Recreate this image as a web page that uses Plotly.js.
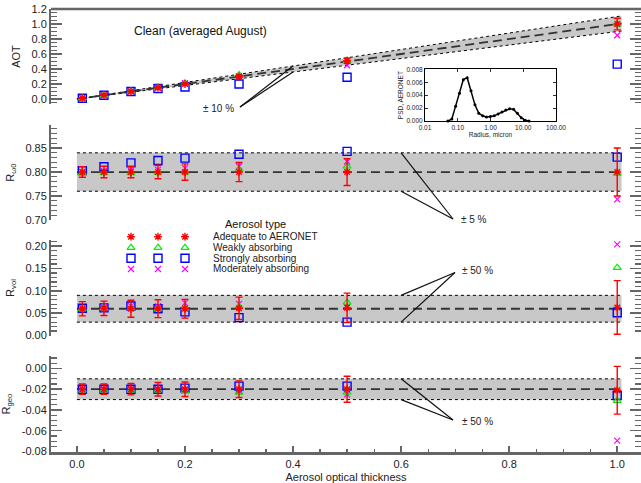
<!DOCTYPE html>
<html><head><meta charset="utf-8">
<script src="https://cdn.plot.ly/plotly-3.0.1.min.js"></script>
<style>html,body{margin:0;padding:0;background:#fff}</style>
</head><body><div id="chart" style="width:641px;height:483px"></div>
<script>
// ---------------- data ----------------
const xAOT = [0.01, 0.05, 0.1, 0.15, 0.2, 0.3, 0.5, 1.0];
const seriesNames = ['Adequate to AERONET', 'Weakly absorbing', 'Strongly absorbing', 'Moderately absorbing'];

// AOT panel
const aotAdequate = [0.01, 0.05, 0.10, 0.15, 0.20, 0.30, 0.51, 1.00];
const aotAdequateErr = [0.003, 0.004, 0.005, 0.006, 0.008, 0.015, 0.035, 0.078];
const aotWeak = [0.01, 0.05, 0.10, 0.15, 0.21, 0.32, 0.51, 1.00];
const aotStrong = [0.01, 0.05, 0.10, 0.14, 0.16, 0.20, 0.29, 0.465];
const aotModerate = [0.01, 0.05, 0.10, 0.15, 0.21, 0.30, 0.45, 0.85];

// R_w0 panel
const w0Adequate = [0.80, 0.80, 0.80, 0.80, 0.80, 0.80, 0.80, 0.80];
const w0AdequateErr = [0.011, 0.012, 0.012, 0.014, 0.017, 0.02, 0.028, 0.05];
const w0Weak = [0.798, 0.798, 0.798, 0.799, 0.80, 0.805, 0.812, 0.797];
const w0Strong = [0.803, 0.811, 0.819, 0.824, 0.829, 0.837, 0.843, 0.831];
const w0Moderate = [0.80, 0.802, 0.803, 0.805, 0.808, 0.812, 0.822, 0.743];

// R_vol panel
const volAdequate = [0.060, 0.061, 0.060, 0.060, 0.060, 0.061, 0.062, 0.063];
const volAdequateErr = [0.016, 0.016, 0.019, 0.020, 0.021, 0.025, 0.033, 0.060];
const volWeak = [0.060, 0.062, 0.062, 0.060, 0.062, 0.065, 0.074, 0.152];
const volStrong = [0.061, 0.062, 0.066, 0.060, 0.053, 0.040, 0.030, 0.051];
const volModerate = [0.061, 0.063, 0.066, 0.066, 0.073, 0.071, 0.064, 0.204];

// R_geo panel
const geoAdequate = [-0.020, -0.020, -0.020, -0.020, -0.020, -0.020, -0.020, -0.021];
const geoAdequateErr = [0.005, 0.005, 0.0055, 0.0065, 0.007, 0.008, 0.0125, 0.023];
const geoWeak = [-0.021, -0.021, -0.021, -0.021, -0.022, -0.023, -0.023, -0.031];
const geoStrong = [-0.020, -0.020, -0.020, -0.020, -0.019, -0.017, -0.017, -0.026];
const geoModerate = [-0.020, -0.020, -0.020, -0.020, -0.021, -0.022, -0.025, -0.0696];

// reference lines / bands
const bandX = [0, 1.008];
const aotRefFactor = 0.10;        // +-10 %
const w0Ref = 0.80, w0RefFactor = 0.05;   // +-5 %
const volRef = 0.06, volRefFactor = 0.50; // +-50 %
const geoRef = -0.02, geoRefFactor = 0.50; // +-50 %

// inset PSD
const psdRadius = [0.050, 0.066, 0.086, 0.113, 0.148, 0.194, 0.255, 0.335, 0.439, 0.576, 0.756, 0.992, 1.302, 1.708, 2.241, 2.940, 3.857, 5.060, 6.640, 8.712, 11.43, 15.0];
const psdValue = [0.0, 0.0003, 0.0023, 0.0043, 0.0064, 0.0067, 0.0047, 0.0025, 0.0012, 0.0008, 0.0006, 0.0007, 0.0008, 0.0011, 0.0014, 0.0017, 0.0019, 0.0018, 0.0012, 0.0005, 0.0001, 0.0];

// tick labels
const xTickVals = [0, 0.2, 0.4, 0.6, 0.8, 1.0];
const xTickText = ['0.0', '0.2', '0.4', '0.6', '0.8', '1.0'];
const aotTickVals = [0, 0.2, 0.4, 0.6, 0.8, 1.0, 1.2];
const aotTickText = ['0.0', '0.2', '0.4', '0.6', '0.8', '1.0', '1.2'];
const w0TickVals = [0.70, 0.75, 0.80, 0.85];
const w0TickText = ['0.70', '0.75', '0.80', '0.85'];
const volTickVals = [0, 0.05, 0.10, 0.15, 0.20];
const volTickText = ['0.00', '0.05', '0.10', '0.15', '0.20'];
const geoTickVals = [0, -0.02, -0.04, -0.06, -0.08];
const geoTickText = ['0.00', '-0.02', '-0.04', '-0.06', '-0.08'];
const psdXTickVals = [0.01, 0.1, 1, 10, 100];
const psdXTickText = ['0.01', '0.10', '1.00', '10.00', '100.00'];
const psdYTickVals = [0, 0.002, 0.004, 0.006, 0.008];
const psdYTickText = ['0.000', '0.002', '0.004', '0.006', '0.008'];

// ---------------- styles ----------------
const FONT = 'Liberation Sans, Arial, Helvetica, sans-serif';
const AX = '#666';
const markers = [
  {symbol: 'asterisk-open', size: 6.5, color: '#ff0000', line: {color: '#ff0000', width: 1.4}},
  {symbol: 'triangle-up-open', size: 7, color: '#00ee00', line: {color: '#00ee00', width: 1.2}},
  {symbol: 'square-open', size: 8, color: '#0000ff', line: {color: '#0000ff', width: 1.4}},
  {symbol: 'x-thin-open', size: 6, color: '#ff00ff', line: {color: '#ff00ff', width: 1.2}}
];

const XR = [-0.048, 1.044];
const PAN = {
  y:  {dom: [0.7856, 1.0],    rng: [-0.067, 1.201]},
  y2: {dom: [0.5237, 0.7381], rng: [0.70, 0.898]},
  y3: {dom: [0.2619, 0.4786], rng: [-0.001, 0.214]},
  y4: {dom: [0.0, 0.2167],    rng: [-0.0805, 0.012]}
};
function pX(x) { return (x - XR[0]) / (XR[1] - XR[0]); }
function pY(ax, v) { const p = PAN[ax]; return p.dom[0] + (v - p.rng[0]) / (p.rng[1] - p.rng[0]) * (p.dom[1] - p.dom[0]); }
// pixel -> paper (plot area: x 51..641, y 9..452)
function ppx(px) { return (px - 51) / 590; }
function ppy(py) { return (452 - py) / 443; }

const traces = [];
function addBand(yax, lo, hi, mid) {
  traces.push({x: bandX, y: lo, yaxis: yax, mode: 'lines', line: {color: '#000', width: 1, dash: 'dot'}, hoverinfo: 'skip'});
  traces.push({x: bandX, y: hi, yaxis: yax, mode: 'lines', fill: 'tonexty', fillcolor: '#c8c8c8', line: {color: '#000', width: 1, dash: 'dot'}, hoverinfo: 'skip'});
  traces.push({x: bandX, y: mid, yaxis: yax, mode: 'lines', line: {color: '#333', width: 1.8, dash: '9px,5px'}, hoverinfo: 'skip'});
}
function addSeries(yax, adequate, err, weak, strong, moderate) {
  const order = [[2, strong], [3, moderate], [1, weak]];
  order.forEach(([i, arr]) => traces.push({x: xAOT, y: arr, yaxis: yax, mode: 'markers', name: seriesNames[i], marker: markers[i], cliponaxis: false}));
  traces.push({x: xAOT, y: adequate, yaxis: yax, mode: 'markers', name: seriesNames[0], marker: markers[0], cliponaxis: false,
    error_y: {type: 'data', array: err, visible: true, color: '#ff0000', thickness: 1.4, width: 3.5}});
}

addBand('y', bandX.map(v => v * (1 - aotRefFactor)), bandX.map(v => v * (1 + aotRefFactor)), bandX.map(v => v));
addSeries('y', aotAdequate, aotAdequateErr, aotWeak, aotStrong, aotModerate);
addBand('y2', bandX.map(() => w0Ref * (1 - w0RefFactor)), bandX.map(() => w0Ref * (1 + w0RefFactor)), bandX.map(() => w0Ref));
addSeries('y2', w0Adequate, w0AdequateErr, w0Weak, w0Strong, w0Moderate);
addBand('y3', bandX.map(() => volRef * (1 - volRefFactor)), bandX.map(() => volRef * (1 + volRefFactor)), bandX.map(() => volRef));
addSeries('y3', volAdequate, volAdequateErr, volWeak, volStrong, volModerate);
addBand('y4', bandX.map(() => geoRef * (1 + geoRefFactor)), bandX.map(() => geoRef * (1 - geoRefFactor)), bandX.map(() => geoRef));
addSeries('y4', geoAdequate, geoAdequateErr, geoWeak, geoStrong, geoModerate);

// inset
traces.push({x: psdRadius, y: psdValue, xaxis: 'x5', yaxis: 'y5', mode: 'lines+markers',
  line: {color: '#000', width: 1.5}, marker: {color: '#000', size: 3}, cliponaxis: false});

// legend (IDL-style: three symbols per entry) on an overlay axis in paper units
const legCols = [131, 158, 185].map(ppx);
const legRows = [236.7, 247.7, 258.3, 269].map(ppy);
seriesNames.forEach((n, i) => {
  traces.push({x: legCols, y: legCols.map(() => legRows[i]), xaxis: 'x6', yaxis: 'y6', mode: 'markers', marker: markers[i], cliponaxis: false, hoverinfo: 'skip'});
});

function yAxis(key, tv, tt, minorDtick, title) {
  return {
    domain: PAN[key].dom, range: PAN[key].rng, anchor: 'x',
    tickmode: 'array', tickvals: tv, ticktext: tt,
    ticks: 'inside', ticklen: 11, tickwidth: 1.5, tickcolor: AX,
    minor: {dtick: minorDtick, tick0: 0, ticks: 'inside', ticklen: 6, tickwidth: 1.2, tickcolor: AX},
    showline: true, linecolor: AX, linewidth: 2, mirror: 'ticks',
    showgrid: false, zeroline: false,
    tickfont: {family: FONT, size: 11, color: '#222'},
    title: {text: title, font: {family: FONT, size: 11, color: '#222'}, standoff: 9}
  };
}

const annFont = {family: FONT, size: 10, color: '#222'};
const annotations = [
  {xref: 'paper', yref: 'paper', x: ppx(200), y: ppy(31), xanchor: 'center', yanchor: 'middle', text: 'Clean (averaged August)', showarrow: false, font: {family: FONT, size: 12, color: '#111'}},
  {xref: 'paper', yref: 'paper', x: ppx(201), y: ppy(108), xanchor: 'left', yanchor: 'middle', text: '± 10 %', showarrow: false, font: annFont},
  {xref: 'paper', yref: 'paper', x: ppx(459), y: ppy(219), xanchor: 'left', yanchor: 'middle', text: '± 5 %', showarrow: false, font: annFont},
  {xref: 'paper', yref: 'paper', x: ppx(460), y: ppy(270), xanchor: 'left', yanchor: 'middle', text: '± 50 %', showarrow: false, font: annFont},
  {xref: 'paper', yref: 'paper', x: ppx(460), y: ppy(421), xanchor: 'left', yanchor: 'middle', text: '± 50 %', showarrow: false, font: annFont},
  {xref: 'paper', yref: 'paper', x: ppx(255), y: ppy(224), xanchor: 'center', yanchor: 'middle', text: 'Aerosol type', showarrow: false, font: {family: FONT, size: 11, color: '#111'}}
];
seriesNames.forEach((n, i) => annotations.push({xref: 'paper', yref: 'paper', x: ppx(211), y: legRows[i], xanchor: 'left', yanchor: 'middle', text: n, showarrow: false, font: annFont}));

const leader = (x0, y0, x1, y1) => ({type: 'line', xref: 'paper', yref: 'paper', x0, y0, x1, y1, line: {color: '#111', width: 1.2}});
const shapes = [
  {type: 'line', xref: 'paper', yref: 'paper', x0: 0, x1: 1, y0: 1, y1: 1, line: {color: AX, width: 2.5}},
  leader(ppx(240), ppy(107), pX(0.4), pY('y', 0.4 * (1 + aotRefFactor))),
  leader(ppx(240), ppy(107), pX(0.4), pY('y', 0.4 * (1 - aotRefFactor))),
  leader(ppx(453), ppy(219), pX(0.6), pY('y2', w0Ref * (1 + w0RefFactor))),
  leader(ppx(453), ppy(219), pX(0.6), pY('y2', w0Ref * (1 - w0RefFactor))),
  leader(ppx(455), ppy(272.5), pX(0.6), pY('y3', volRef * (1 + volRefFactor))),
  leader(ppx(455), ppy(272.5), pX(0.6), pY('y3', volRef * (1 - volRefFactor))),
  leader(ppx(453), ppy(420), pX(0.6), pY('y4', geoRef * (1 - geoRefFactor))),
  leader(ppx(453), ppy(420), pX(0.6), pY('y4', geoRef * (1 + geoRefFactor)))
];

const smallFont = {family: FONT, size: 6.5, color: '#222'};
const layout = {
  width: 641, height: 483,
  margin: {l: 51, r: 0, t: 9, b: 31},
  paper_bgcolor: '#fff', plot_bgcolor: 'rgba(0,0,0,0)',
  showlegend: false,
  font: {family: FONT, size: 11, color: '#222'},
  xaxis: {
    domain: [0, 1], range: XR, anchor: 'y4',
    tickmode: 'array', tickvals: xTickVals, ticktext: xTickText,
    ticks: 'inside', ticklen: 6, tickwidth: 1.5, tickcolor: AX,
    minor: {dtick: 0.05, tick0: 0, ticks: 'inside', ticklen: 3, tickwidth: 1.2, tickcolor: AX},
    showline: true, linecolor: AX, linewidth: 2.5,
    showgrid: false, zeroline: false,
    tickfont: {family: FONT, size: 11, color: '#222'},
    title: {text: 'Aerosol optical thickness', font: {family: FONT, size: 11, color: '#222'}, standoff: 6}
  },
  yaxis: yAxis('y', aotTickVals, aotTickText, 0.05, 'AOT'),
  yaxis2: yAxis('y2', w0TickVals, w0TickText, 0.01, 'R<sub>ω0</sub>'),
  yaxis3: yAxis('y3', volTickVals, volTickText, 0.01, 'R<sub>vol</sub>'),
  yaxis4: yAxis('y4', geoTickVals, geoTickText, 0.005, 'R<sub>geo</sub>'),
  xaxis5: {
    type: 'log', domain: [ppx(425), ppx(556)], range: [-2, 2], anchor: 'y5',
    tickmode: 'array', tickvals: psdXTickVals, ticktext: psdXTickText,
    ticks: 'inside', ticklen: 3, tickcolor: '#000', tickwidth: 0.8,
    showline: true, linecolor: '#000', linewidth: 1, mirror: 'ticks',
    showgrid: false, zeroline: false, tickfont: smallFont,
    title: {text: 'Radius, micron', font: smallFont, standoff: 2}
  },
  yaxis5: {
    domain: [ppy(121), ppy(69.3)], range: [0, 0.008], anchor: 'x5',
    tickmode: 'array', tickvals: psdYTickVals, ticktext: psdYTickText,
    ticks: 'inside', ticklen: 3, tickcolor: '#000', tickwidth: 0.8,
    showline: true, linecolor: '#000', linewidth: 1, mirror: 'ticks',
    showgrid: false, zeroline: false, tickfont: smallFont,
    title: {text: 'PSD, AERONET', font: smallFont, standoff: 2}
  },
  xaxis6: {domain: [0, 1], range: [0, 1], anchor: 'y6', visible: false, fixedrange: true},
  yaxis6: {domain: [0, 1], range: [0, 1], anchor: 'x6', visible: false, fixedrange: true},
  annotations, shapes
};

Plotly.newPlot('chart', traces, layout, {displayModeBar: false, staticPlot: true});
</script>
</body></html>
